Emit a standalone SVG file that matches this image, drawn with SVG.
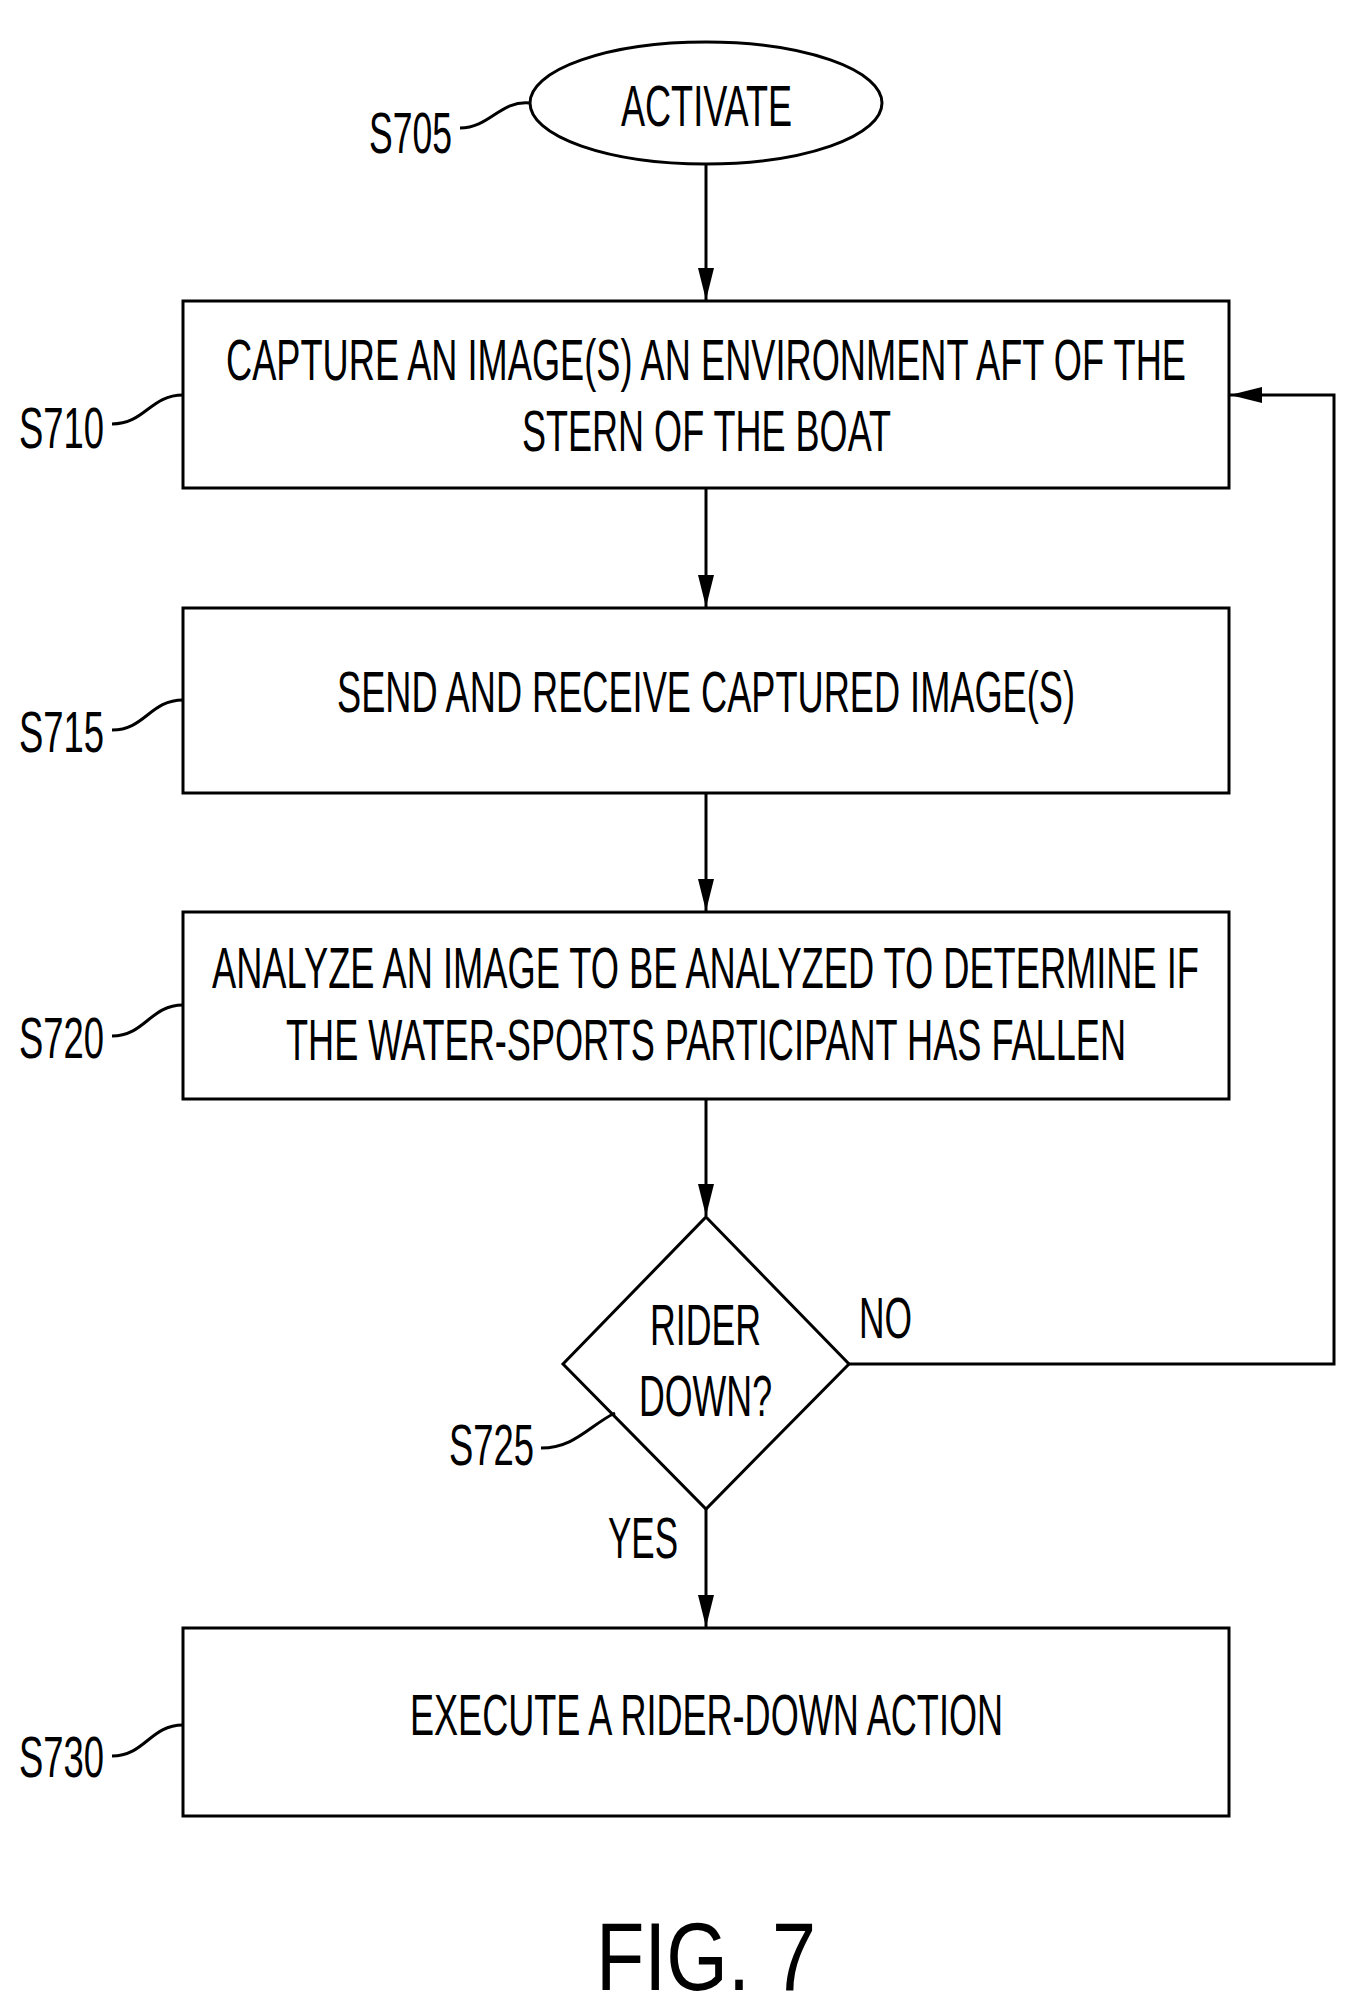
<svg xmlns="http://www.w3.org/2000/svg" width="1368" height="2013" viewBox="0 0 1368 2013">
<style>
.b{fill:#fff;stroke:#000;stroke-width:3}
.t{font-family:"Liberation Sans",Arial,sans-serif;font-size:58px;fill:#000;text-anchor:middle}
.l{font-family:"Liberation Sans",Arial,sans-serif;font-size:58px;fill:#000}
.c{fill:none;stroke:#000;stroke-width:3}
</style>
<defs><marker id="a" markerWidth="34" markerHeight="18" refX="32" refY="9" orient="auto" markerUnits="userSpaceOnUse"><path d="M0,1 L32,9 L0,17 Z" fill="#000"/></marker></defs>
<rect width="1368" height="2013" fill="#fff"/>
<g id="connectors">
<line class="c" x1="706" y1="164" x2="706" y2="300" marker-end="url(#a)"/>
<line class="c" x1="706" y1="488" x2="706" y2="607" marker-end="url(#a)"/>
<line class="c" x1="706" y1="793" x2="706" y2="911" marker-end="url(#a)"/>
<line class="c" x1="706" y1="1099" x2="706" y2="1216" marker-end="url(#a)"/>
<line class="c" x1="706" y1="1509" x2="706" y2="1627" marker-end="url(#a)"/>
<polyline class="c" points="849,1364 1334,1364 1334,395 1230,395" marker-end="url(#a)"/>
<text class="l" x="859" y="1338" textLength="53" lengthAdjust="spacingAndGlyphs">NO</text>
<text class="l" x="608" y="1558" textLength="70" lengthAdjust="spacingAndGlyphs">YES</text>
</g>
<g id="s705">
<ellipse class="b" cx="706" cy="103" rx="176" ry="61"/>
<text class="l" x="621" y="126" textLength="171" lengthAdjust="spacingAndGlyphs">ACTIVATE</text>
<text class="l" x="369" y="153" textLength="83" lengthAdjust="spacingAndGlyphs">S705</text>
<path class="c" d="M460,128 C490,128 500,100 530,103"/>
</g>
<g id="s710">
<rect class="b" x="183" y="301" width="1046" height="187"/>
<text class="l" x="226" y="380" textLength="960" lengthAdjust="spacingAndGlyphs">CAPTURE AN IMAGE(S) AN ENVIRONMENT AFT OF THE</text>
<text class="l" x="522" y="451" textLength="369" lengthAdjust="spacingAndGlyphs">STERN OF THE BOAT</text>
<text class="l" x="19" y="448" textLength="85" lengthAdjust="spacingAndGlyphs">S710</text>
<path class="c" d="M112,424 C145,424 150,395 183,395"/>
</g>
<g id="s715">
<rect class="b" x="183" y="608" width="1046" height="185"/>
<text class="l" x="337" y="712" textLength="738" lengthAdjust="spacingAndGlyphs">SEND AND RECEIVE CAPTURED IMAGE(S)</text>
<text class="l" x="19" y="752" textLength="85" lengthAdjust="spacingAndGlyphs">S715</text>
<path class="c" d="M112,730 C145,730 150,700 183,700"/>
</g>
<g id="s720">
<rect class="b" x="183" y="912" width="1046" height="187"/>
<text class="l" x="212" y="988" textLength="987" lengthAdjust="spacingAndGlyphs">ANALYZE AN IMAGE TO BE ANALYZED TO DETERMINE IF</text>
<text class="l" x="286" y="1060" textLength="840" lengthAdjust="spacingAndGlyphs">THE WATER-SPORTS PARTICIPANT HAS FALLEN</text>
<text class="l" x="19" y="1058" textLength="85" lengthAdjust="spacingAndGlyphs">S720</text>
<path class="c" d="M112,1036 C145,1036 150,1005 183,1005"/>
</g>
<g id="s725">
<polygon class="b" points="706,1217 849,1364 706,1509 563,1364"/>
<text class="l" x="650" y="1345" textLength="111" lengthAdjust="spacingAndGlyphs">RIDER</text>
<text class="l" x="639" y="1416" textLength="133" lengthAdjust="spacingAndGlyphs">DOWN?</text>
<text class="l" x="449" y="1465" textLength="85" lengthAdjust="spacingAndGlyphs">S725</text>
<path class="c" d="M541,1448 C575,1448 590,1425 615,1413"/>
</g>
<g id="s730">
<rect class="b" x="183" y="1628" width="1046" height="188"/>
<text class="l" x="410" y="1735" textLength="593" lengthAdjust="spacingAndGlyphs">EXECUTE A RIDER-DOWN ACTION</text>
<text class="l" x="19" y="1777" textLength="85" lengthAdjust="spacingAndGlyphs">S730</text>
<path class="c" d="M112,1756 C145,1756 150,1725 183,1725"/>
</g>
<text class="t" x="706" y="1990" style="font-size:96px" textLength="220" lengthAdjust="spacingAndGlyphs">FIG. 7</text>
</svg>
